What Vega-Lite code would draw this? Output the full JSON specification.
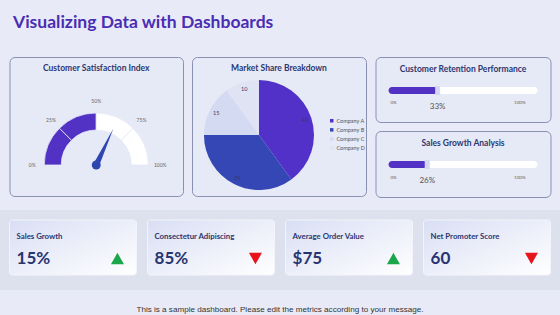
{
  "$schema": "https://vega.github.io/schema/vega-lite/v6.json",
  "background": "#e8ebf7",
  "padding": {"left": 0, "right": 0, "top": 14, "bottom": 0},
  "config": {"view": {"stroke": null}, "font": "Lato"},
  "title": {"text": "Visualizing Data with Dashboards", "anchor": "start", "dx": 13, "fontSize": 17.5, "font": "Lato", "fontWeight": "bold", "color": "#4a2db3", "baseline": "top", "offset": 25},
  "spacing": 12,
  "resolve": {"scale": {"color": "independent", "theta": "independent", "angle": "independent", "shape": "independent"}},
  "vconcat": [
    {
      "spacing": 7.5,
      "resolve": {"scale": {"color": "independent", "theta": "independent", "angle": "independent"}},
      "hconcat": [
        {"width": 1, "height": 139, "data": {"values": [{"s": 1}]}, "mark": {"type": "point", "opacity": 0, "size": 0, "strokeWidth": 0, "filled": true}, "encoding": {}},
        {
          "width": 173.5, "height": 139,
          "view": {"fill": "#e6e9f6", "stroke": "#8a90b2", "strokeWidth": 1, "cornerRadius": 5},
          "title": {"text": "Customer Satisfaction Index", "offset": -15, "baseline": "top", "fontSize": 8.5, "font": "Lato", "fontWeight": "bold", "color": "#2d3870"},
          "encoding": {
            "y": {"datum": 0.223, "type": "quantitative", "scale": {"domain": [0, 1], "nice": false, "zero": false}, "axis": null}
          },
          "layer": [
            {
              "data": {"values": [
                {"part": "filled", "band": "0-25", "v": 25},
                {"part": "filled", "band": "25-50", "v": 25},
                {"part": "empty", "band": "50-75", "v": 25},
                {"part": "empty", "band": "75-100", "v": 25}
              ]},
              "mark": {"type": "arc", "outerRadius": 52, "innerRadius": 35, "stroke": "#e6e9f6", "strokeWidth": 0.8},
              "encoding": {
                "theta": {"field": "v", "type": "quantitative", "stack": true, "scale": {"domain": [0, 100], "range": [-1.5708, 1.5708]}},
                "color": {"field": "part", "type": "nominal", "scale": {"domain": ["filled", "empty"], "range": ["#5232c5", "#ffffff"]}, "legend": null},
                "order": {"field": "band", "type": "ordinal"}
              }
            },
            {
              "data": {"values": [
                {"pos": 0, "lab": "0%"}, {"pos": 25, "lab": "25%"}, {"pos": 50, "lab": "50%"}, {"pos": 75, "lab": "75%"}, {"pos": 100, "lab": "100%"}
              ]},
              "mark": {"type": "text", "radius": 64, "fontSize": 5, "fill": "#666666"},
              "encoding": {
                "theta": {"field": "pos", "type": "quantitative", "scale": {"domain": [0, 100], "range": [-1.5708, 1.5708]}},
                "text": {"field": "lab", "type": "nominal"}
              }
            },
            {
              "data": {"values": [{"needle": 64}]},
              "mark": {"type": "point", "shape": "M-0.075,0 L0,-1 L0.075,0 Z", "filled": true, "size": 6400, "opacity": 1, "color": "#2f46b0", "strokeWidth": 0},
              "encoding": {"angle": {"field": "needle", "type": "quantitative", "scale": {"domain": [0, 100], "range": [-90, 90]}}}
            },
            {
              "data": {"values": [{"needle": 64}]},
              "mark": {"type": "circle", "size": 80, "opacity": 1, "color": "#2f46b0"}
            }
          ]
        },
        {
          "width": 174, "height": 139,
          "view": {"fill": "#e6e9f6", "stroke": "#8a90b2", "strokeWidth": 1, "cornerRadius": 5},
          "title": {"text": "Market Share Breakdown", "offset": -15, "baseline": "top", "fontSize": 8.5, "font": "Lato", "fontWeight": "bold", "color": "#2d3870"},
          "data": {"values": [
            {"company": "Company A", "share": 40},
            {"company": "Company B", "share": 35},
            {"company": "Company C", "share": 15},
            {"company": "Company D", "share": 10}
          ]},
          "encoding": {
            "theta": {"field": "share", "type": "quantitative", "stack": true},
            "order": {"field": "company", "type": "nominal"},
            "x": {"datum": 0.385, "type": "quantitative", "scale": {"domain": [0, 1], "nice": false, "zero": false}, "axis": null},
            "y": {"datum": 0.439, "type": "quantitative", "scale": {"domain": [0, 1], "nice": false, "zero": false}, "axis": null}
          },
          "layer": [
            {
              "mark": {"type": "arc", "outerRadius": 55},
              "encoding": {
                "color": {"field": "company", "type": "nominal", "scale": {"range": ["#5131c8", "#3447b4", "#d4daf1", "#dfe3f4"]},
                  "legend": {"orient": "none", "legendX": 137, "legendY": 61, "title": null, "labelFontSize": 5.5, "labelColor": "#555555", "symbolType": "square", "symbolSize": 12, "rowPadding": 2.1, "labelOffset": 2, "symbolStrokeWidth": 0}}
              }
            },
            {
              "mark": {"type": "text", "radius": 48, "fontSize": 5.5, "fill": "#3a3a6a"},
              "encoding": {"text": {"field": "share", "type": "quantitative"}, "detail": {"field": "company", "type": "nominal"}}
            }
          ]
        },
        {
          "spacing": 7,
          "vconcat": [
            {
              "width": 175, "height": 65,
              "view": {"fill": "#e6e9f6", "stroke": "#8a90b2", "strokeWidth": 1, "cornerRadius": 5},
              "title": {"text": "Customer Retention Performance", "offset": -16, "baseline": "top", "fontSize": 8.5, "font": "Lato", "fontWeight": "bold", "color": "#2d3870"},
              "data": {"values": [{"metric": "Customer Retention", "value": 33, "label": "33%"}]},
              "encoding": {"y": {"field": "metric", "type": "nominal", "axis": null, "scale": {"paddingInner": 0, "paddingOuter": 0}}},
              "layer": [
                {"mark": {"type": "bar", "color": "#ffffff", "cornerRadius": 3.5, "height": 7, "yOffset": 1}, "encoding": {"x": {"datum": 0, "type": "quantitative", "scale": {"domain": [0, 100], "padding": 13, "nice": false, "zero": false}, "axis": null}, "x2": {"datum": 100}}},
                {"mark": {"type": "bar", "color": "#5232c5", "cornerRadius": 3.5, "height": 7, "yOffset": 1}, "encoding": {"x": {"field": "value", "type": "quantitative"}, "x2": {"datum": 0}}},
                {"mark": {"type": "tick", "color": "#d3d8f0", "thickness": 5, "size": 9, "opacity": 1, "yOffset": 1}, "encoding": {"x": {"field": "value", "type": "quantitative"}}},
                {"mark": {"type": "text", "align": "left", "dx": 2, "dy": 13.5, "fontSize": 4.5, "fill": "#666666"}, "encoding": {"x": {"datum": 0, "type": "quantitative"}, "text": {"value": "0%"}}},
                {"mark": {"type": "text", "align": "right", "dx": -12, "dy": 13.5, "fontSize": 4.5, "fill": "#666666"}, "encoding": {"x": {"datum": 100, "type": "quantitative"}, "text": {"value": "100%"}}},
                {"mark": {"type": "text", "dy": 17.5, "fontSize": 8, "fill": "#555555"}, "encoding": {"x": {"field": "value", "type": "quantitative"}, "text": {"field": "label", "type": "nominal"}}}
              ]
            },
            {
              "width": 175, "height": 66,
              "view": {"fill": "#e6e9f6", "stroke": "#8a90b2", "strokeWidth": 1, "cornerRadius": 5},
              "title": {"text": "Sales Growth Analysis", "offset": -16, "baseline": "top", "fontSize": 8.5, "font": "Lato", "fontWeight": "bold", "color": "#2d3870"},
              "data": {"values": [{"metric": "Sales Growth", "value": 26, "label": "26%"}]},
              "encoding": {"y": {"field": "metric", "type": "nominal", "axis": null, "scale": {"paddingInner": 0, "paddingOuter": 0}}},
              "layer": [
                {"mark": {"type": "bar", "color": "#ffffff", "cornerRadius": 3.5, "height": 7, "yOffset": 0.5}, "encoding": {"x": {"datum": 0, "type": "quantitative", "scale": {"domain": [0, 100], "padding": 13, "nice": false, "zero": false}, "axis": null}, "x2": {"datum": 100}}},
                {"mark": {"type": "bar", "color": "#5232c5", "cornerRadius": 3.5, "height": 7, "yOffset": 0.5}, "encoding": {"x": {"field": "value", "type": "quantitative"}, "x2": {"datum": 0}}},
                {"mark": {"type": "tick", "color": "#d3d8f0", "thickness": 5, "size": 9, "opacity": 1, "yOffset": 0.5}, "encoding": {"x": {"field": "value", "type": "quantitative"}}},
                {"mark": {"type": "text", "align": "left", "dx": 2, "dy": 14, "fontSize": 4.5, "fill": "#666666"}, "encoding": {"x": {"datum": 0, "type": "quantitative"}, "text": {"value": "0%"}}},
                {"mark": {"type": "text", "align": "right", "dx": -12, "dy": 14, "fontSize": 4.5, "fill": "#666666"}, "encoding": {"x": {"datum": 100, "type": "quantitative"}, "text": {"value": "100%"}}},
                {"mark": {"type": "text", "dy": 17, "fontSize": 8, "fill": "#555555"}, "encoding": {"x": {"field": "value", "type": "quantitative"}, "text": {"field": "label", "type": "nominal"}}}
              ]
            }
          ]
        }
      ]
    },
    {
      "spacing": 0,
      "vconcat": [
        {
          "width": 560, "height": 80,
          "view": {"fill": "#dde1ed", "stroke": null},
          "data": {"values": [
            {"panel": "kpi", "card": "Sales Growth", "value": "15%", "trend": "up"},
            {"panel": "kpi", "card": "Consectetur Adipiscing", "value": "85%", "trend": "down"},
            {"panel": "kpi", "card": "Average Order Value", "value": "$75", "trend": "up"},
            {"panel": "kpi", "card": "Net Promoter Score", "value": "60", "trend": "down"}
          ]},
          "encoding": {
            "x": {"field": "card", "type": "nominal", "sort": null, "axis": null, "scale": {"paddingInner": 0.08, "paddingOuter": 0.069}},
            "y": {"field": "panel", "type": "nominal", "axis": null, "scale": {"paddingInner": 0, "paddingOuter": 0.227, "align": 0.4}}
          },
          "layer": [
            {"mark": {"type": "rect", "cornerRadius": 3, "fill": {"gradient": "linear", "x1": 0, "y1": 0, "x2": 1, "y2": 1, "stops": [{"offset": 0, "color": "#d9def4"}, {"offset": 1, "color": "#ffffff"}]}, "stroke": "#f3f4fb", "strokeWidth": 1}},
            {"mark": {"type": "text", "align": "left", "baseline": "alphabetic", "dx": 7, "dy": 18.7, "fontSize": 7.8, "fontWeight": "bold", "fill": "#2b3670"},
             "encoding": {"x": {"field": "card", "type": "nominal", "sort": null, "bandPosition": 0}, "y": {"field": "panel", "type": "nominal", "bandPosition": 0}, "text": {"field": "card", "type": "nominal"}}},
            {"mark": {"type": "text", "align": "left", "baseline": "alphabetic", "dx": 7, "dy": 44, "fontSize": 17, "fontWeight": "bold", "fill": "#283470"},
             "encoding": {"x": {"field": "card", "type": "nominal", "sort": null, "bandPosition": 0}, "y": {"field": "panel", "type": "nominal", "bandPosition": 0}, "text": {"field": "value", "type": "nominal"}}},
            {"mark": {"type": "point", "filled": true, "size": 170, "opacity": 1, "strokeWidth": 0},
             "encoding": {
               "x": {"field": "card", "type": "nominal", "sort": null, "bandPosition": 0.85},
               "y": {"field": "panel", "type": "nominal", "bandPosition": 0.7},
               "shape": {"field": "trend", "type": "nominal", "scale": {"domain": ["up", "down"], "range": ["triangle-up", "triangle-down"]}, "legend": null},
               "color": {"field": "trend", "type": "nominal", "scale": {"domain": ["up", "down"], "range": ["#1aa64b", "#e8141b"]}, "legend": null}
             }}
          ]
        },
        {
          "width": 560, "height": 27,
          "data": {"values": [{"note": "This is a sample dashboard. Please edit the metrics according to your message."}]},
          "mark": {"type": "text", "font": "Liberation Sans", "fontSize": 8.1, "fill": "#333333", "dy": 6.2},
          "encoding": {"text": {"field": "note", "type": "nominal"}}
        }
      ]
    }
  ]
}
